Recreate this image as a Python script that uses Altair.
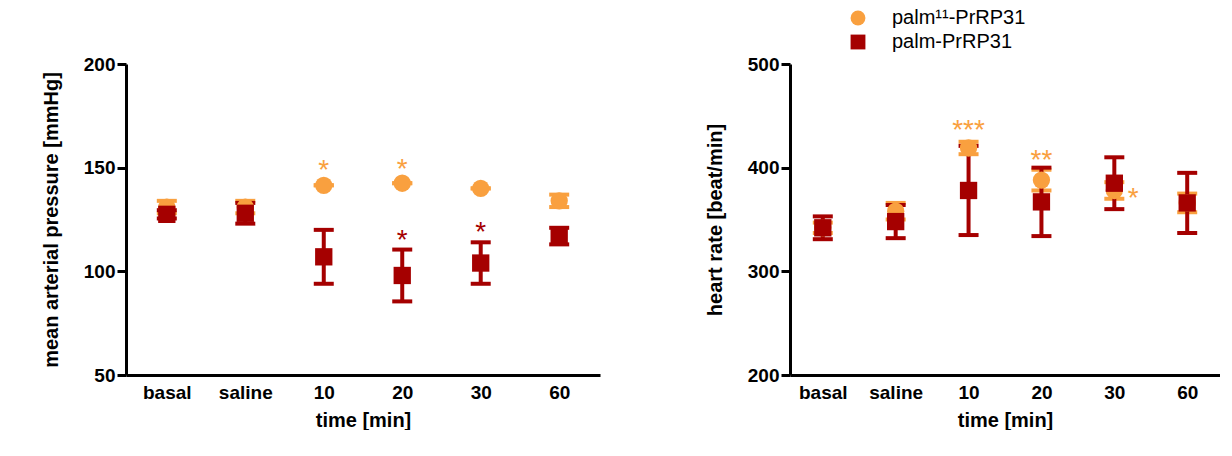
import altair as alt
import pandas as pd

times = ["basal", "saline", "10", "20", "30", "60"]
groups = ["palm¹¹-PrRP31", "palm-PrRP31"]

# mean arterial pressure [mmHg]
map_palm11 = [131, 131, 141.5, 142.5, 140, 134]
map_palm11_err = [3, 3, 0, 0, 0, 3]
map_palm = [127.5, 128, 107, 98, 104, 117]
map_palm_err = [2, 5, 13, 12.5, 10, 4]

# heart rate [beat/min]
hr_palm11 = [342, 358, 419, 388, 378, 366]
hr_palm11_err = [5, 8, 6, 10, 8, 9]
hr_palm = [342, 348, 378, 367, 385, 366]
hr_palm_err = [11, 16, 43, 33, 25, 29]

# significance marks: (time, group, text, value)
map_stars = [("10", groups[0], "*", 148), ("20", groups[0], "*", 148.5),
             ("20", groups[1], "*", 114), ("30", groups[1], "*", 118)]
hr_stars = [("10", groups[0], "***", 434), ("20", groups[0], "**", 405)]
hr_side_star = [("30", groups[0], "*", 374)]

COLORS = ["#f9a03f", "#a50000"]
FONT = "Liberation Sans"


def make_df(v1, e1, v2, e2):
    rows = []
    for g, vals, errs in [(groups[0], v1, e1), (groups[1], v2, e2)]:
        for t, v, e in zip(times, vals, errs):
            rows.append({"time": t, "group": g, "value": v,
                         "lo": v - e, "hi": v + e})
    return pd.DataFrame(rows)


def panel(df, stars, domain, ticks, title, width, pad, legend, side=None):
    x = alt.X("time:N", sort=times, title="time [min]",
              scale=alt.Scale(type="point", padding=pad),
              axis=alt.Axis(labelAngle=0))
    leg = alt.Legend(title=None, orient="none", legendX=58, legendY=-56,
                     labelFontSize=20, labelFont=FONT, symbolSize=220,
                     rowPadding=2, labelOffset=24, symbolOpacity=1)
    color = alt.Color("group:N", sort=groups,
                      scale=alt.Scale(domain=groups, range=COLORS),
                      legend=leg if legend else None)
    shape = alt.Shape("group:N", sort=groups,
                      scale=alt.Scale(domain=groups, range=["circle", "square"]),
                      legend=leg if legend else None)
    y = alt.Y("value:Q", title=title,
              scale=alt.Scale(domain=domain, nice=False),
              axis=alt.Axis(values=ticks))
    base = alt.Chart(df)
    layers = []
    for g in groups:
        sub = base.transform_filter(alt.datum.group == g)
        c = COLORS[groups.index(g)]
        layers.append(sub.mark_rule(color=c, strokeWidth=4).encode(
            x=x, y=alt.Y("lo:Q", scale=alt.Scale(domain=domain)), y2="hi:Q"))
        layers.append(sub.mark_tick(color=c, thickness=4, size=20, opacity=1).encode(
            x=x, y=alt.Y("lo:Q")))
        layers.append(sub.mark_tick(color=c, thickness=4, size=20, opacity=1).encode(
            x=x, y=alt.Y("hi:Q")))
    for g in groups:
        sub = base.transform_filter(alt.datum.group == g)
        layers.append(sub.mark_point(filled=True, opacity=1, size=300).encode(
            x=x, y=y, color=color, shape=shape))
    for g in groups:
        sdf = pd.DataFrame([s for s in stars if s[1] == g],
                           columns=["time", "group", "text", "value"])
        if len(sdf):
            layers.append(alt.Chart(sdf).mark_text(
                fontSize=28, font=FONT, baseline="middle", dy=-1,
                color=COLORS[groups.index(g)]).encode(
                x=x, y=alt.Y("value:Q"), text="text:N"))
    if side:
        s2 = pd.DataFrame(side, columns=["time", "group", "text", "value"])
        layers.append(alt.Chart(s2).mark_text(fontSize=28, font=FONT, dx=19, dy=4,
                                              color=COLORS[0]).encode(
            x=x, y=alt.Y("value:Q"), text="text:N"))
    return alt.layer(*layers).properties(width=width, height=311)


left = panel(make_df(map_palm11, map_palm11_err, map_palm, map_palm_err),
             map_stars, [50, 200], [50, 100, 150, 200],
             "mean arterial pressure [mmHg]", 474, 0.52, False)
right = panel(make_df(hr_palm11, hr_palm11_err, hr_palm, hr_palm_err),
              hr_stars, [200, 500], [200, 300, 400, 500],
              "heart rate [beat/min]", 430, 0.45, True, hr_side_star)

chart = (
    alt.hconcat(left, right, spacing=105)
    .resolve_legend(color="independent", shape="independent")
    .resolve_scale(color="independent", shape="independent")
    .properties(padding={"left": 33, "top": 0, "right": 0, "bottom": 0})
    .configure_view(stroke=None)
    .configure_axis(labelFont=FONT, titleFont=FONT, labelFontSize=19,
                    titleFontSize=20, labelFontWeight="bold",
                    titleFontWeight="bold", labelColor="black",
                    titleColor="black", domainColor="black", tickColor="black",
                    domainWidth=3, tickWidth=3, tickSize=9, grid=False,
                    labelPadding=2)
    .configure_axisY(titlePadding=22)
    .configure_axisX(domain=True, ticks=False, titlePadding=8, labelPadding=8)
)

chart.save("out.html", embed_options={"renderer": "svg", "actions": False})
